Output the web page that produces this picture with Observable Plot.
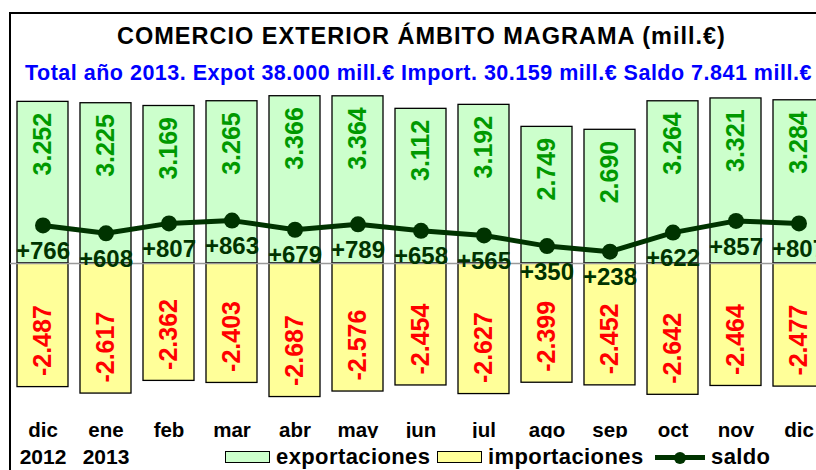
<!DOCTYPE html>
<html><head><meta charset="utf-8">
<script src="https://cdn.jsdelivr.net/npm/d3@7"></script>
<script src="https://cdn.jsdelivr.net/npm/@observablehq/plot@0.6"></script>
<style>
html,body{margin:0;padding:0;background:#fff;overflow:hidden;}
body{width:816px;height:470px;position:relative;font-family:"Liberation Sans",Arial,sans-serif;}
#frame{position:absolute;left:9px;top:12px;width:900px;height:500px;border-left:2px solid #000;border-top:2px solid #000;box-sizing:border-box;}
#title{position:absolute;left:117px;top:25px;font-size:23.5px;line-height:23.5px;font-weight:bold;letter-spacing:1px;white-space:nowrap;color:#000;}
#subtitle{position:absolute;left:25px;top:63px;font-size:21.5px;line-height:21.5px;font-weight:bold;letter-spacing:0.5px;white-space:nowrap;color:#0000ff;}
#chart{position:absolute;left:0;top:90px;}
.lgt{position:absolute;top:446px;font-size:22px;line-height:22px;font-weight:bold;letter-spacing:0.4px;white-space:nowrap;color:#000;}
.sw{position:absolute;top:451px;width:45px;height:12px;border:1.5px solid #000;box-sizing:border-box;}
g[aria-label="months"] text{letter-spacing:1.5px;}
</style></head>
<body>
<div id="frame"></div>
<div id="title">COMERCIO EXTERIOR ÁMBITO MAGRAMA (mill.€)</div>
<div id="subtitle">Total año 2013. Expot 38.000 mill.€ Import. 30.159 mill.€ Saldo 7.841 mill.€</div>
<div id="chart"></div>
<div class="sw" style="left:225px;background:#ccffcc;"></div>
<div class="lgt" style="left:276px;">exportaciones</div>
<div class="sw" style="left:437px;background:#ffff99;"></div>
<div class="lgt" style="left:488px;">importaciones</div>
<div style="position:absolute;left:655px;top:455px;width:50px;height:5px;background:#003300;"></div>
<div style="position:absolute;left:674px;top:451.5px;width:12px;height:12px;border-radius:50%;background:#003300;"></div>
<div class="lgt" style="left:711px;">saldo</div>
<script>
const months = ["dic","ene","feb","mar","abr","may","jun","jul","ago","sep","oct","nov","dic"];
const years = ["2012","2013","","","","","","","","","","",""];
const exportaciones = [3252,3225,3169,3265,3366,3364,3112,3192,2749,2690,3264,3321,3284];
const importaciones = [-2487,-2617,-2362,-2403,-2687,-2576,-2454,-2627,-2399,-2452,-2642,-2464,-2477];
const saldo = [766,608,807,863,679,789,658,565,350,238,622,857,807];

const keys = months.map((m, i) => m + "-" + i);
const rows = keys.map((k, i) => ({key: k, month: months[i], year: years[i], exp: exportaciones[i], imp: importaciones[i], saldo: saldo[i]}));

const loc = d3.formatLocale({decimal: ",", thousands: ".", grouping: [3], currency: ["", "€"], minus: "-"});
const fmt = loc.format(",");

const k = 0.0497, zero = 173;
const chart = Plot.plot({
  width: 816,
  height: 380,
  marginTop: 0,
  marginBottom: 32,
  marginLeft: 10,
  marginRight: 0,
  style: {fontFamily: '"Liberation Sans", Arial, sans-serif', overflow: "visible", background: "transparent"},
  x: {type: "band", domain: keys, range: [9.9, 831.5], paddingInner: 0.185, paddingOuter: 0.0925, align: 0.5, axis: null},
  y: {domain: [-3000, 3500], range: [zero + 3000 * k, zero - 3500 * k], axis: null},
  marks: [
    Plot.barY(rows, {x: "key", y1: 0, y2: "exp", fill: "#ccffcc", stroke: "#000", strokeWidth: 1.3}),
    Plot.barY(rows, {x: "key", y1: 0, y2: "imp", fill: "#ffff99", stroke: "#000", strokeWidth: 1.3}),
    Plot.ruleY([0], {stroke: "#999", strokeWidth: 1.5}),
    Plot.line(rows, {x: "key", y: "saldo", stroke: "#003300", strokeWidth: 5}),
    Plot.dot(rows, {x: "key", y: "saldo", r: 8, fill: "#003300"}),
    Plot.text(rows, {x: "key", y: "exp", text: d => fmt(d.exp), rotate: -90, textAnchor: "end", dy: 11, fill: "#009900", fontSize: 25, fontWeight: "bold"}),
    Plot.text(rows, {x: "key", y: "imp", text: d => fmt(d.imp), rotate: -90, textAnchor: "start", dy: -11, fill: "#ff0000", fontSize: 25, fontWeight: "bold"}),
    Plot.text(rows, {x: "key", y: "saldo", text: d => "+" + fmt(d.saldo), dy: 26, fill: "#003300", fontSize: 24, fontWeight: "bold"}),
    Plot.text(rows, {x: "key", text: "month", frameAnchor: "bottom", lineAnchor: "bottom", dy: -2, fill: "#000", fontSize: 20.5, fontWeight: "bold", clip: "frame", ariaLabel: "months"}),
    Plot.text(rows, {x: "key", text: "year", frameAnchor: "bottom", lineAnchor: "bottom", dy: 25.5, fill: "#000", fontSize: 21, fontWeight: "bold"})
  ]
});
document.getElementById("chart").appendChild(chart);
</script>
</body></html>
